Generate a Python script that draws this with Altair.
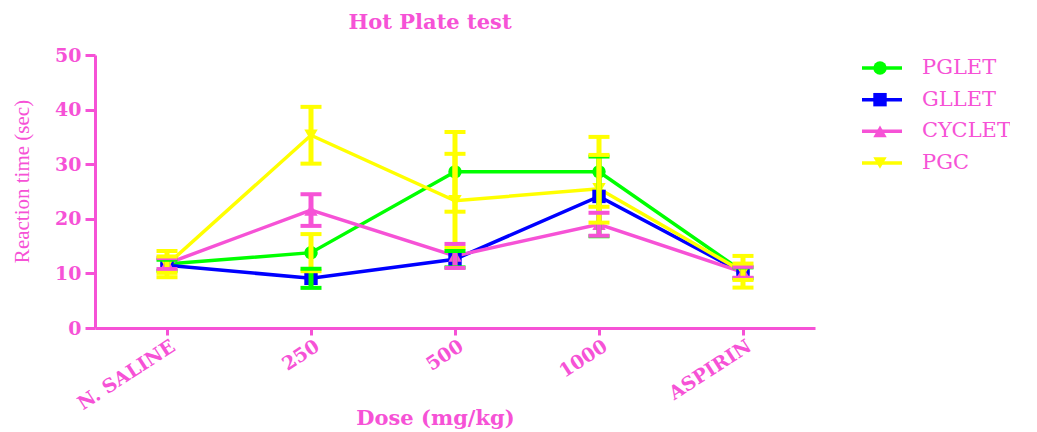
import altair as alt
import pandas as pd

# ---- data ----
doses = ["N. SALINE", "250", "500", "1000", "ASPIRIN"]
series = ["PGLET", "GLLET", "CYCLET", "PGC"]

pglet_mean = [11.7, 13.8, 28.6, 28.6, 10.3]
pglet_sem = [2.4, 3.4, 7.3, 6.4, 2.9]
gllet_mean = [11.5, 9.1, 12.6, 24.1, 10.1]
gllet_sem = [1.0, 1.75, 1.5, 7.3, 1.0]
cyclet_mean = [11.8, 21.6, 13.2, 19.0, 10.2]
cyclet_sem = [1.0, 2.9, 2.2, 2.1, 1.0]
pgc_mean = [11.6, 35.3, 23.3, 25.5, 10.3]
pgc_sem = [1.5, 5.2, 8.6, 6.2, 1.5]

y_ticks = [0, 10, 20, 30, 40, 50]

# ---- styles ----
PINK = "#F652D6"
line_colors = ["#00FF00", "#0000FF", PINK, "#FFFF00"]
err_colors = ["#FFFF00", "#00FF00", PINK, "#FFFF00"]
shapes = ["circle", "square", "triangle-up", "triangle-down"]

means = [pglet_mean, gllet_mean, cyclet_mean, pgc_mean]
sems = [pglet_sem, gllet_sem, cyclet_sem, pgc_sem]
rows = []
for si, s in enumerate(series):
    for di, d in enumerate(doses):
        m = means[si][di]
        e = sems[si][di]
        rows.append({"dose": d, "series": s, "mean": m, "lo": m - e, "hi": m + e, "k": si})
df = pd.DataFrame(rows)

x_enc = alt.X(
    "dose:N", sort=doses,
    scale=alt.Scale(type="point", padding=0.5),
    axis=alt.Axis(
        title="Dose (mg/kg)", labelAngle=-33, labelAlign="right", labelBaseline="middle",
        labelFont="DejaVu Serif", labelFontWeight="bold", labelFontSize=19, labelColor=PINK,
        labelPadding=9, labelOffset=6, tickColor=PINK, tickWidth=3, tickSize=7,
        domainColor=PINK, domainWidth=3,
        titleFont="DejaVu Serif", titleFontWeight="bold", titleFontSize=21, titleColor=PINK,
        titleX=340, titleY=90, titleBaseline="middle", grid=False,
    ),
)
y_scale = alt.Scale(domain=[0, 50])
y_axis = alt.Axis(
    values=y_ticks, title="Reaction time (sec)", titleFont="Liberation Serif",
    titleFontWeight="normal", titleFontSize=21, titleColor=PINK, titleX=-73, titleY=126,
    titleAngle=270, titleBaseline="middle", titleAlign="center",
    labelFont="DejaVu Serif", labelFontWeight="bold", labelFontSize=19, labelColor=PINK,
    labelPadding=4, tickColor=PINK, tickWidth=3, tickSize=10, domainColor=PINK, domainWidth=3,
    grid=False,
)
col_line = alt.Color("series:N", scale=alt.Scale(domain=series, range=line_colors), legend=None)
col_err = alt.Color("series:N", scale=alt.Scale(domain=series, range=err_colors), legend=None)
shp = alt.Shape("series:N", scale=alt.Scale(domain=series, range=shapes), legend=None)

base = alt.Chart(df)
lines = base.mark_line(strokeWidth=3.5).encode(
    x=x_enc, y=alt.Y("mean:Q", scale=y_scale, axis=y_axis), color=col_line,
    order="k:Q",
)
points = base.mark_point(filled=True, size=180, opacity=1).encode(
    x=alt.X("dose:N", sort=doses), y=alt.Y("mean:Q"), color=col_line, shape=shp,
)
err_bar = base.mark_rule(strokeWidth=5).encode(
    x=alt.X("dose:N", sort=doses), y=alt.Y("lo:Q"), y2="hi:Q", color=col_err,
)
cap_lo = base.mark_tick(size=21, thickness=4, opacity=1).encode(
    x=alt.X("dose:N", sort=doses), y=alt.Y("lo:Q"), color=col_err,
)
cap_hi = base.mark_tick(size=21, thickness=4, opacity=1).encode(
    x=alt.X("dose:N", sort=doses), y=alt.Y("hi:Q"), color=col_err,
)
main = alt.layer(lines, points, err_bar, cap_lo, cap_hi).resolve_scale(color="independent")

leg_df = pd.DataFrame({"series": series})
leg_y = alt.Y("series:N", sort=series, scale=alt.Scale(type="point", range=[13, 108], padding=0), axis=None)
leg_base = alt.Chart(leg_df)
leg_rule = leg_base.mark_rule(strokeWidth=3.5).encode(
    x=alt.value(767), x2=alt.value(807), y=leg_y, color=col_line,
)
leg_pt = leg_base.mark_point(filled=True, size=180, opacity=1).encode(
    x=alt.value(785), y=leg_y, color=col_line, shape=shp,
)
leg_txt = leg_base.mark_text(align="left", baseline="middle", font="DejaVu Serif",
                             fontSize=21, color=PINK).encode(
    x=alt.value(827), y=leg_y, text="series:N",
)
legend = alt.layer(leg_rule, leg_pt, leg_txt)

chart = alt.layer(main, legend).resolve_scale(
    y="independent", color="independent", shape="independent"
).properties(
    width=720, height=273, background="white",
    title=alt.TitleParams("Hot Plate test", font="DejaVu Serif", fontSize=21, fontWeight="bold",
                          color=PINK, dx=-25, offset=13, anchor="middle"),
    autosize=alt.AutoSizeParams(type="none"),
    padding={"left": 87, "top": 47, "right": 195, "bottom": 104},
).configure_view(stroke=None)

chart.save("out.html", embed_options={"renderer": "svg", "actions": False})
